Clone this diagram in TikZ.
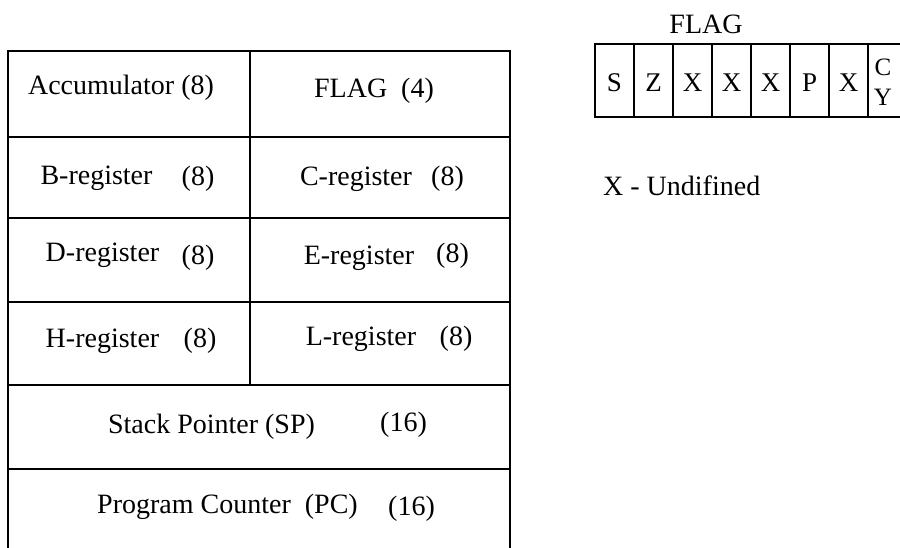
\documentclass[tikz,border=0pt]{standalone}
\usepackage{fontspec}
\setmainfont{Liberation Serif}
\begin{document}
\begin{tikzpicture}[x=1pt,y=-1pt,
  cell/.style={draw,line width=1.3pt,minimum width=#1,minimum height=84pt,inner sep=0pt,outer sep=0pt,anchor=north west},
  bit/.style={draw,line width=1.3pt,minimum width=39pt,minimum height=73pt,inner sep=0pt,outer sep=0pt,anchor=north west},
  lbl/.style={anchor=base,inner sep=0pt,font=\fontsize{28}{30}\selectfont},
  blbl/.style={anchor=base,inner sep=0pt,font=\fontsize{27}{30}\selectfont},
  cylbl/.style={anchor=base,inner sep=0pt,font=\fontsize{25}{30}\selectfont}]
\useasboundingbox (0,0) rectangle (900,547);
\clip (0,0) rectangle (900,547);
% register table
\node[cell=242pt,minimum height=86pt] (acc) at (8,51) {};
\node[cell=260pt,minimum height=86pt] (flg) at (250,51) {};
\node[cell=242pt,minimum height=81pt] (b) at (8,137) {};
\node[cell=260pt,minimum height=81pt] (c) at (250,137) {};
\node[cell=242pt,minimum height=84pt] (d) at (8,218) {};
\node[cell=260pt,minimum height=84pt] (e) at (250,218) {};
\node[cell=242pt,minimum height=83pt] (h) at (8,302) {};
\node[cell=260pt,minimum height=83pt] (l) at (250,302) {};
\node[cell=502pt] (sp) at (8,385) {};
\node[cell=502pt] (pc) at (8,469) {};
% labels
\node[lbl] (tacc) at (121,94) {Accumulator (8)};
\node[lbl] (tflg) at (374,97) {FLAG\ \ (4)};
\node[lbl] (tb) at (96.5,184) {B-register};
\node[lbl] (tb8) at (198,185) {(8)};
\node[lbl] (tc) at (356,185) {C-register};
\node[lbl] (tc8) at (447.5,185) {(8)};
\node[lbl] (td) at (102.5,261) {D-register};
\node[lbl] (td8) at (198,264) {(8)};
\node[lbl] (te) at (359,264) {E-register};
\node[lbl] (te8) at (452.5,262) {(8)};
\node[lbl] (th) at (102.5,347) {H-register};
\node[lbl] (th8) at (200,347) {(8)};
\node[lbl] (tl) at (361,345) {L-register};
\node[lbl] (tl8) at (456,345) {(8)};
\node[lbl] (tsp) at (211.5,433) {Stack Pointer (SP)};
\node[lbl] (tsp16) at (403.5,431) {(16)};
\node[lbl] (tpc) at (227.5,513) {Program Counter\ \ (PC)};
\node[lbl] (tpc16) at (411.5,515) {(16)};
% flag register
\node[lbl] (flagtitle) at (706,33) {FLAG};
\foreach \i/\t in {0/S,1/Z,2/X,3/X,4/X,5/P,6/X}{
  \node[bit] (f\i) at (595+39*\i,44) {};
  \node[blbl] (tf\i) at (614.5+39*\i,91) {\t};
}
\node[bit] (f7) at (868,44) {};
\node[cylbl] (tcy1) at (883,75) {C};
\node[cylbl] (tcy2) at (883,105) {Y};
\node[lbl,anchor=base west] (undef) at (603,195) {X - Undifined};
\end{tikzpicture}
\end{document}
